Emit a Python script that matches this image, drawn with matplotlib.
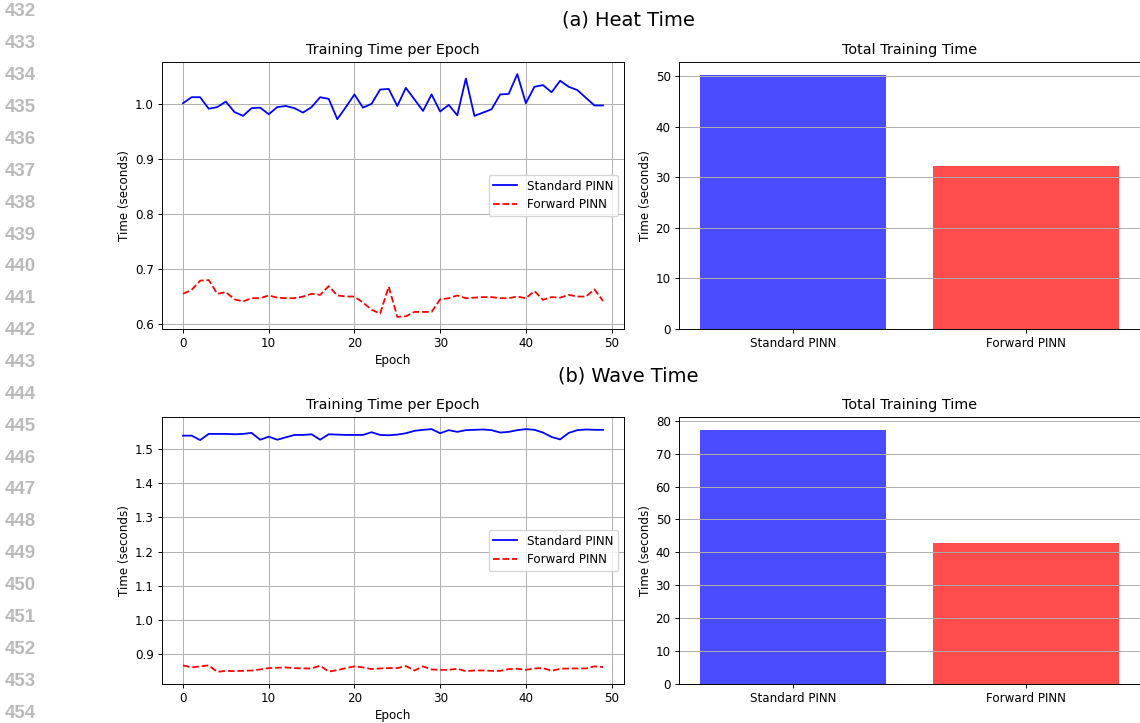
import numpy as np
import matplotlib
matplotlib.use("Agg")
import matplotlib.pyplot as plt

# per-epoch training times (seconds)
epochs = list(range(50))

heat_standard = [1.002, 1.013, 1.013, 0.992, 0.995, 1.005, 0.986, 0.979, 0.993, 0.994,
                 0.982, 0.995, 0.997, 0.993, 0.985, 0.995, 1.013, 1.010, 0.973, 0.995,
                 1.018, 0.994, 1.001, 1.027, 1.028, 0.997, 1.030, 1.009, 0.988, 1.018,
                 0.987, 0.999, 0.980, 1.047, 0.979, 0.985, 0.991, 1.018, 1.019, 1.055,
                 1.002, 1.032, 1.035, 1.022, 1.043, 1.032, 1.026, 1.012, 0.998, 0.998]
heat_forward = [0.655, 0.662, 0.679, 0.680, 0.655, 0.658, 0.645, 0.641, 0.647, 0.647,
                0.652, 0.648, 0.647, 0.647, 0.650, 0.655, 0.653, 0.669, 0.652, 0.650,
                0.650, 0.639, 0.626, 0.619, 0.668, 0.613, 0.614, 0.622, 0.622, 0.622,
                0.645, 0.647, 0.652, 0.647, 0.648, 0.649, 0.649, 0.647, 0.647, 0.650,
                0.647, 0.660, 0.644, 0.649, 0.648, 0.653, 0.650, 0.650, 0.663, 0.642]

wave_standard = [1.539, 1.539, 1.526, 1.544, 1.544, 1.544, 1.543, 1.544, 1.547, 1.527,
                 1.536, 1.527, 1.534, 1.541, 1.541, 1.543, 1.527, 1.543, 1.542, 1.541,
                 1.541, 1.541, 1.549, 1.541, 1.540, 1.542, 1.546, 1.553, 1.556, 1.558,
                 1.546, 1.555, 1.550, 1.555, 1.556, 1.557, 1.555, 1.548, 1.550, 1.555,
                 1.558, 1.556, 1.548, 1.535, 1.528, 1.547, 1.555, 1.557, 1.556, 1.556]
wave_forward = [0.867, 0.861, 0.864, 0.867, 0.848, 0.851, 0.850, 0.851, 0.852, 0.855,
                0.859, 0.860, 0.861, 0.859, 0.858, 0.858, 0.866, 0.849, 0.853, 0.859,
                0.864, 0.861, 0.856, 0.858, 0.859, 0.859, 0.865, 0.852, 0.864, 0.855,
                0.854, 0.854, 0.857, 0.850, 0.852, 0.852, 0.851, 0.851, 0.856, 0.857,
                0.854, 0.858, 0.859, 0.851, 0.857, 0.858, 0.858, 0.858, 0.864, 0.862]

methods = ["Standard PINN", "Forward PINN"]
heat_total = [50.33, 32.35]
wave_total = [77.27, 42.94]

line_numbers = list(range(432, 455))

s = 0.86  # the source figure was scaled down
plt.rcParams.update({
    "font.size": 10 * s,
    "axes.titlesize": 12 * s,
    "axes.linewidth": 0.8 * s,
    "axes.labelpad": 2.5,
    "xtick.major.size": 3.5 * s,
    "ytick.major.size": 3.5 * s,
    "xtick.major.width": 0.8 * s,
    "ytick.major.width": 0.8 * s,
    "xtick.major.pad": 3.5 * s,
    "ytick.major.pad": 3.5 * s,
    "grid.linewidth": 0.8 * s,
    "lines.linewidth": 1.5 * s,
})

W, H = 1140, 723
fig = plt.figure(figsize=(W / 100, H / 100), dpi=100)


def box(l, t, r, b):
    return [l / W, 1 - b / H, (r - l) / W, (b - t) / H]


panels = [
    ("(a) Heat Time", 20, heat_standard, heat_forward, heat_total, 62, 329),
    ("(b) Wave Time", 376, wave_standard, wave_forward, wave_total, 417, 684),
]

for name, ty, std, fwd, tot, top, bot in panels:
    fig.text(628 / W, 1 - ty / H, name, ha="center", va="center", fontsize=14 * s * 1.16)

    ax = fig.add_axes(box(162, top, 624, bot))
    ax.plot(epochs, std, "b-", label="Standard PINN")
    ax.plot(epochs, fwd, "r--", label="Forward PINN")
    ax.set_title("Training Time per Epoch")
    ax.set_xlabel("Epoch")
    ax.set_ylabel("Time (seconds)")
    ax.legend(loc="center right")
    ax.grid(True)

    ax2 = fig.add_axes(box(679, top, 1140, bot))
    ax2.bar(methods, tot, color=["blue", "red"], alpha=0.7)
    ax2.set_title("Total Training Time")
    ax2.set_ylabel("Time (seconds)")
    ax2.grid(True, axis="y")

# line numbers in the page margin
for i, n in enumerate(line_numbers):
    y = 12 + i * (713 - 12) / (len(line_numbers) - 1)
    fig.text(5 / W, 1 - y / H, str(n), ha="left", va="center", fontsize=13.5,
             fontweight="bold", family="Liberation Sans", color="#bababa")

fig.savefig("out.png", dpi=100)
